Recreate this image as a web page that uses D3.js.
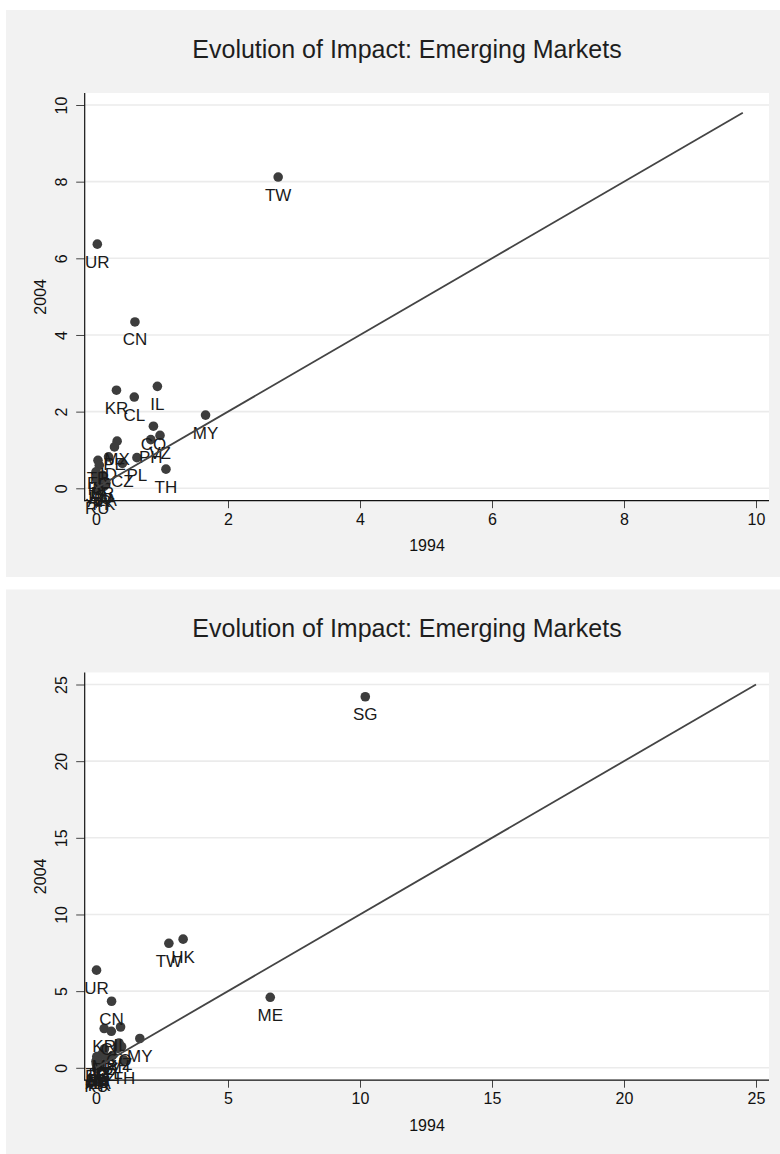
<!DOCTYPE html>
<html>
<head>
<meta charset="utf-8">
<script src="https://cdn.jsdelivr.net/npm/d3@7"></script>
<style>
  html, body { margin: 0; padding: 0; background: #ffffff; }
  svg { display: block; }
  text { font-family: "Liberation Sans", Arial, Helvetica, sans-serif; }
</style>
</head>
<body>
<svg id="chart" width="780" height="1154"></svg>
<script>
// ---- data ----
const codes = ["TW","UR","CN","KR","CL","IL","MY","CO","PH","VZ","TH","PL","MX","PE","CZ","ID","TR","EG","IN","BR","JO","HU","ZA","AR","PK","RU","HK","SG","ME"];
const v1994 = [2.76,0.02,0.59,0.31,0.58,0.93,1.66,0.87,0.83,0.97,1.06,0.62,0.32,0.28,0.40,0.19,0.03,0.05,0.00,0.10,0.01,0.07,0.15,0.05,0.12,0.02,3.30,10.20,6.60];
const v2004 = [8.12,6.37,4.34,2.56,2.38,2.66,1.91,1.62,1.27,1.38,0.50,0.80,1.23,1.08,0.65,0.82,0.73,0.60,0.43,0.34,0.25,0.20,0.15,0.12,0.05,-0.05,8.39,24.20,4.60];
const excludedTop = ["HK","SG","ME"];
const ticksTop = [0,2,4,6,8,10];
const ticksBottom = [0,5,10,15,20,25];
const lineTop = [0, 9.8];
const lineBottom = [0, 25];
const titleText = "Evolution of Impact: Emerging Markets";
const xTitle = "1994";
const yTitle = "2004";

const points = codes.map((c, i) => ({code: c, x: v1994[i], y: v2004[i]}));

const svg = d3.select("#chart");

function panel(cfg) {
  const g = svg.append("g").attr("transform", `translate(0,${cfg.top})`);
  // background panel
  g.append("rect").attr("x", 6).attr("y", 0).attr("width", 774).attr("height", cfg.panelH)
    .attr("fill", "#f2f2f2");
  const pl = 85, pr = 769, pt = 83, pb = 490.7;
  g.append("rect").attr("x", pl).attr("y", pt).attr("width", pr - pl).attr("height", pb - pt)
    .attr("fill", "#ffffff");

  const x = d3.scaleLinear().domain([0, cfg.max]).range([96, 756]);
  const y = d3.scaleLinear().domain([0, cfg.max]).range([478.3, 95]);

  // grid
  g.append("g").selectAll("line").data(cfg.ticks).join("line")
    .attr("x1", pl).attr("x2", pr)
    .attr("y1", d => y(d)).attr("y2", d => y(d))
    .attr("stroke", "#ebebeb").attr("stroke-width", 1.6);

  // title
  g.append("text").attr("x", 407).attr("y", 47.5).attr("text-anchor", "middle")
    .attr("font-size", 25).attr("fill", "#1e1e1e").text(titleText);

  // x axis
  const xa = g.append("g").attr("transform", `translate(0,${pb})`)
    .call(d3.axisBottom(x).tickValues(cfg.ticks).tickSize(7.5).tickPadding(5).tickFormat(d3.format("d")));
  xa.select(".domain").remove();
  xa.selectAll(".tick line").attr("stroke", "#444");
  xa.selectAll(".tick text").attr("font-size", 16).attr("fill", "#111")
    .attr("font-family", '"Liberation Sans", Arial, sans-serif');
  g.append("line").attr("x1", pl - 0.5).attr("x2", pr).attr("y1", pb).attr("y2", pb)
    .attr("stroke", "#111").attr("stroke-width", 1.2);

  // y axis
  const ya = g.append("g").attr("transform", `translate(${pl - 0.3},0)`)
    .call(d3.axisLeft(y).tickValues(cfg.ticks).tickSize(8.5).tickPadding(0).tickFormat(d3.format("d")));
  ya.select(".domain").remove();
  ya.selectAll(".tick line").attr("stroke", "#444");
  ya.selectAll(".tick text").attr("font-size", 16).attr("fill", "#111")
    .attr("font-family", '"Liberation Sans", Arial, sans-serif')
    .attr("text-anchor", "middle").attr("dy", 0)
    .attr("transform", "translate(-17.5,0) rotate(-90)").attr("x", 0).attr("y", 0);
  g.append("line").attr("x1", pl - 0.3).attr("x2", pl - 0.3).attr("y1", pt).attr("y2", pb + 0.5)
    .attr("stroke", "#111").attr("stroke-width", 1.2);

  // axis titles
  g.append("text").attr("x", (pl + pr) / 2).attr("y", 541).attr("text-anchor", "middle")
    .attr("font-size", 16).attr("fill", "#111").text(xTitle);
  g.append("text").attr("transform", `translate(46,${(pt + pb) / 2}) rotate(-90)`)
    .attr("text-anchor", "middle").attr("font-size", 16).attr("fill", "#111").text(yTitle);

  // markers and labels
  const data = points.filter(cfg.filter);
  g.append("g").selectAll("circle").data(data).join("circle")
    .attr("cx", d => x(d.x)).attr("cy", d => y(d.y)).attr("r", 4.8)
    .attr("fill", "#3d3d3d");
  g.append("g").selectAll("text").data(data).join("text")
    .attr("x", d => x(d.x)).attr("y", d => y(d.y) + 23.5)
    .attr("text-anchor", "middle").attr("font-size", 17).attr("fill", "#1a1a1a")
    .text(d => d.code);

  // 45-degree line
  g.append("line")
    .attr("x1", x(cfg.line[0])).attr("y1", y(cfg.line[0]))
    .attr("x2", x(cfg.line[1])).attr("y2", y(cfg.line[1]))
    .attr("stroke", "#444").attr("stroke-width", 1.8);
}

panel({top: 10, panelH: 567, max: 10, ticks: ticksTop, line: lineTop,
       filter: d => !excludedTop.includes(d.code)});
panel({top: 589.5, panelH: 570, max: 25, ticks: ticksBottom, line: lineBottom,
       filter: d => true});
</script>
</body>
</html>
